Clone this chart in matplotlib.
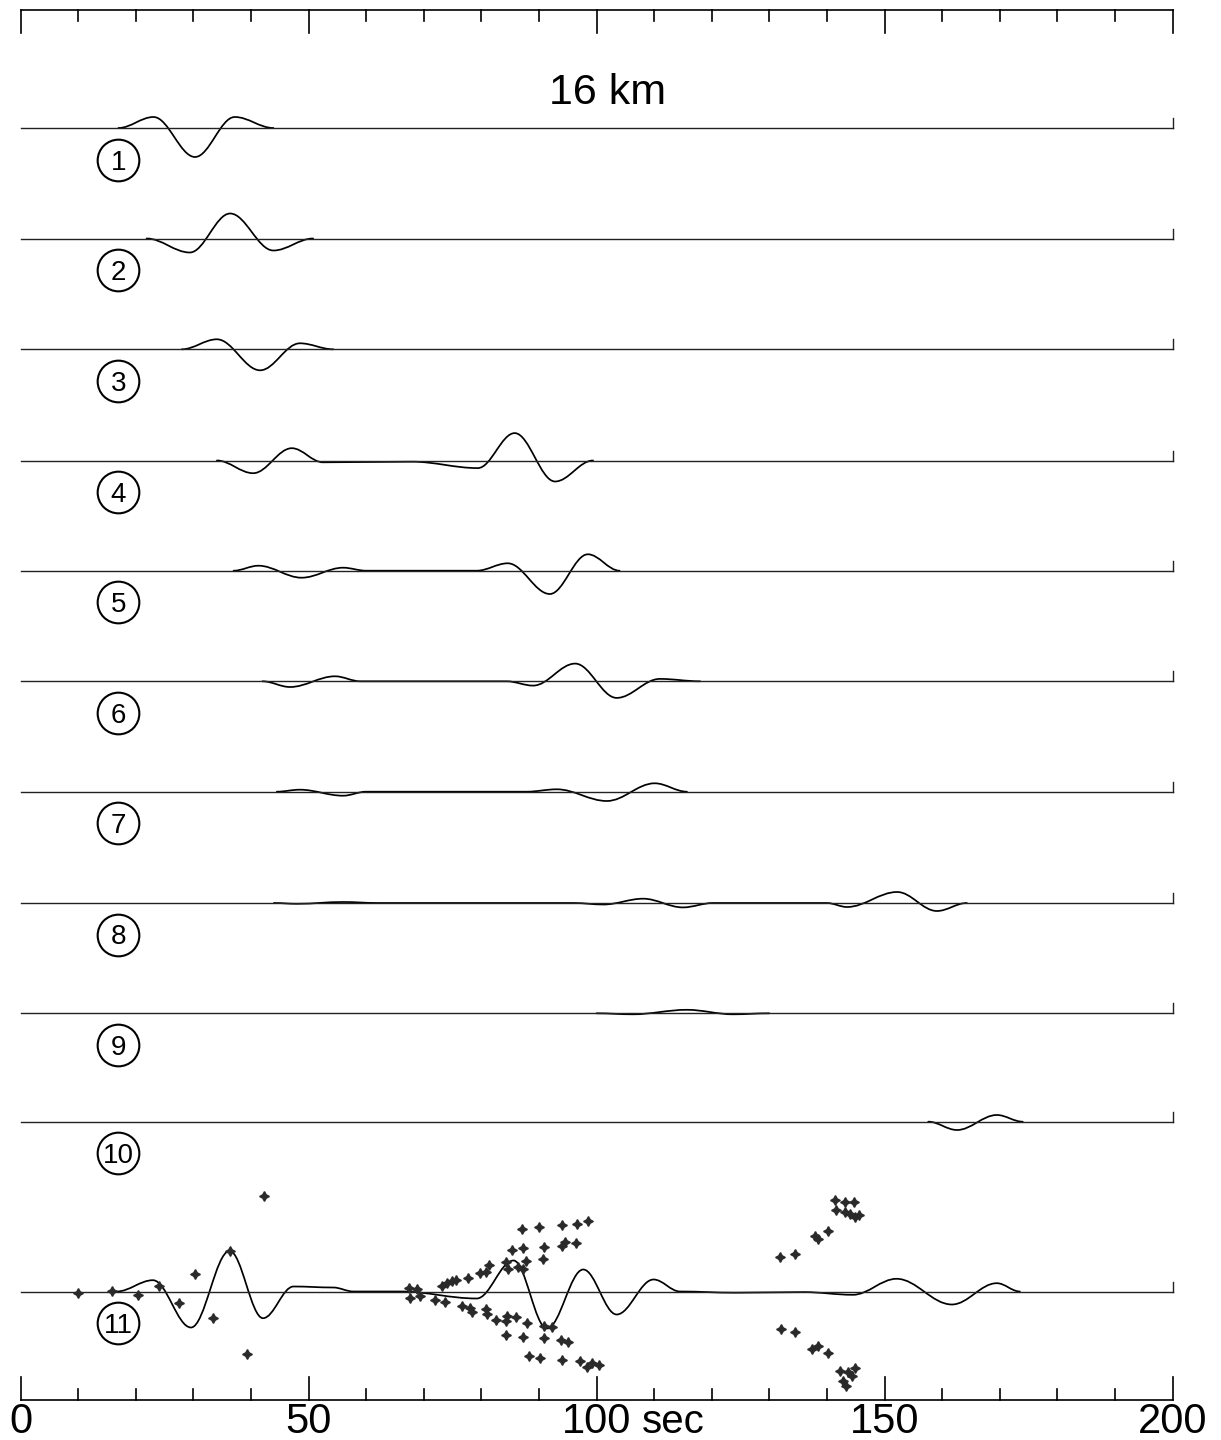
import matplotlib
matplotlib.use("Agg")
import matplotlib.pyplot as plt
from matplotlib.path import Path
from matplotlib.patches import PathPatch

plt.rcParams["font.family"] = ["Liberation Sans", "DejaVu Sans"]

# waveform extrema: time (sec) and amplitude (px, up positive)
trace_times = [
    [17.0, 23.1, 30.3, 37.2, 43.9],
    [21.9, 29.4, 36.4, 43.9, 50.8],
    [28.0, 34.1, 41.6, 48.5, 54.3],
    [34.1, 40.4, 47.1, 52.5, 68.0, 79.4, 85.8, 92.8, 99.4],
    [37.0, 41.3, 48.8, 56.0, 60.0, 79.2, 84.6, 91.9, 98.5, 104.0],
    [42.0, 46.8, 54.6, 59.0, 84.4, 89.0, 96.3, 103.5, 111.0, 118.0],
    [44.5, 48.5, 56.0, 60.0, 87.9, 93.1, 101.8, 110.1, 115.7],
    [44.0, 48.0, 56.0, 62.0, 96.0, 101.2, 108.1, 115.0, 120.2, 140.0, 143.5, 152.2, 159.1, 164.3],
    [100.0, 106.3, 115.7, 123.7, 130.0],
    [157.6, 162.6, 169.5, 174.0],
    [16.7, 23.0, 29.6, 36.3, 42.1, 47.4, 54.3, 57.8, 66.0, 79.2, 85.6, 91.4, 97.7, 103.5,
     109.9, 114.5, 124.0, 136.0, 144.5, 152.1, 161.7, 169.5, 173.5],
]
trace_amps = [
    [0, 11, -29, 11, 0],
    [0, -14, 25, -12, 0],
    [0, 10, -21, 6, 0],
    [0, -12.7, 12.3, -1.8, -1.2, -7.6, 27.4, -21, 0],
    [0, 5, -7, 3, 0, 0, 7.4, -23.3, 16.4, 0],
    [0, -5.7, 5, 0, 0, -4.3, 17.7, -16.6, 2.4, 0],
    [0, 2, -4, 0, 0, 2.4, -9.3, 8.4, 0],
    [0, -0.8, 1, 0, 0, -1.5, 4.3, -4.4, 0, 0, -4, 11, -8, 0],
    [0, -1, 3.5, -1, 0],
    [0, -8.3, 6.7, 0],
    [0, 11.3, -36, 40.6, -26.7, 5, 4, 0, 0, -7, 31, -37, 22, -23,
     12, 0, -1.2, -0.6, -3.3, 12.7, -13, 8.3, 0],
]
trace_labels = ["1", "2", "3", "4", "5", "6", "7", "8", "9", "10", "11"]

# dispersion points plotted around trace 11
point_t = [10.0, 15.9, 20.4, 24.1, 27.5, 30.3, 33.4, 36.3, 39.3, 42.2,
           67.5, 68.8, 73.1, 74.0, 74.9, 75.6, 77.7, 79.7, 80.8, 81.4, 84.3, 84.7, 86.4, 87.2,
           87.8, 85.3, 87.2, 90.7, 90.9, 94.0, 94.5, 96.4, 87.0, 90.1, 94.0, 96.7, 98.6,
           67.7, 69.4, 72.0, 73.7, 76.6, 78.0, 78.3, 80.8, 81.0, 82.6, 84.4, 84.3, 86.1, 87.9,
           90.8, 92.2, 84.3, 87.3, 90.9, 93.8, 95.0, 88.3, 90.2, 94.0, 97.1, 98.3, 99.3, 100.4,
           131.9, 134.5, 137.9, 138.5, 140.2, 141.4, 143.1, 144.7, 141.6, 143.1, 144.0, 144.9, 145.6,
           132.0, 134.5, 137.4, 138.5, 140.2, 142.3, 143.7, 144.8, 142.8, 143.4, 144.4]
point_a = [-1, 1, -3, 6, -11.7, 18, -26.4, 40.6, -62.7, 95.6,
           3.7, 2.7, 6, 8.3, 10.3, 12, 13.7, 18.3, 19.3, 27, 29.3, 22.7, 25, 22.7,
           30.3, 41.7, 43.3, 32.7, 45, 46, 49.3, 48.3, 62.7, 65, 67, 67.7, 71,
           -6.3, -4.7, -8, -10.7, -14, -16.3, -20.7, -17.3, -22.3, -28.3, -24, -29.7, -25, -31.7,
           -34, -35, -43, -45.7, -46.7, -48.3, -50.7, -64, -66.3, -68.3, -69.7, -75, -71.7, -73.3,
           35, 37.7, 56, 52.7, 61, 91.7, 89.3, 89.3, 81.7, 79.3, 77.7, 75, 77,
           -37.3, -40, -57.3, -54, -61.7, -79.7, -80.7, -76.3, -89, -94, -84]

tick_values = [0, 50, 100, 150, 200]
tick_labels = ["0", "50", "100", "150", "200"]

# layout (pixel rows from the top of the 1221x1440 image)
W, H = 1221, 1440
x0_px, px_per_sec = 20.5, 5.76
baseline_rows = [128, 238.5, 349.3, 460.5, 570.7, 681.3, 791.7, 903, 1013.3, 1121.7, 1291.5]


def row(px_from_top):
    return H - px_from_top


def wave_patch(times, amps, base, k=0.36):
    """Smooth trace through the extrema, horizontal tangent at every knot."""
    verts = [(times[0], base + amps[0])]
    codes = [Path.MOVETO]
    for i in range(1, len(times)):
        dt = times[i] - times[i - 1]
        verts += [(times[i - 1] + k * dt, base + amps[i - 1]),
                  (times[i] - k * dt, base + amps[i]),
                  (times[i], base + amps[i])]
        codes += [Path.CURVE4] * 3
    return PathPatch(Path(verts, codes), fill=False, lw=1.25, ec="black", capstyle="round")


fig = plt.figure(figsize=(W / 100, H / 100), dpi=100)
ax = fig.add_axes([0, 0, 1, 1])
ax.set_xlim(-x0_px / px_per_sec, (W - x0_px) / px_per_sec)
ax.set_ylim(0, H)
ax.axis("off")

# time axes at top and bottom
top, bottom = row(9.5), row(1400)
ax.plot([0, 200], [top, top], color="black", lw=1.2)
ax.plot([0, 200], [bottom, bottom], color="black", lw=1.2)
for t in range(0, 201, 10):
    length = 23 if t % 50 == 0 else 11
    ax.plot([t, t], [top, top - length], color="black", lw=1.2)
    ax.plot([t, t], [bottom, bottom + length], color="black", lw=1.2)

for t, lab in zip(tick_values, tick_labels):
    ax.text(t, row(1433), lab, ha="center", va="baseline", fontsize=30)
ax.text(107.9, row(1433), "sec", ha="left", va="baseline", fontsize=29)

ax.text(102, row(104), "16 km", ha="center", va="baseline", fontsize=31)

for i, (times, amps) in enumerate(zip(trace_times, trace_amps)):
    base = row(baseline_rows[i])
    ax.plot([0, 200], [base, base], color="#222222", lw=1.0)
    ax.plot([200, 200], [base, base + 10], color="#222222", lw=1.0)
    ax.add_patch(wave_patch(times, amps, base))
    cy = base - 31.5
    ax.plot(17.0, cy, "o", ms=30, mfc="none", mec="black", mew=1.5)
    ax.text(17.0, cy - 10, trace_labels[i], ha="center", va="baseline", fontsize=20)

base11 = row(baseline_rows[10])
ax.plot(point_t, [base11 + a for a in point_a], linestyle="none", marker=(4, 1, 0),
        ms=7, color="#2a2a2a")

fig.savefig("out.png", dpi=100)
